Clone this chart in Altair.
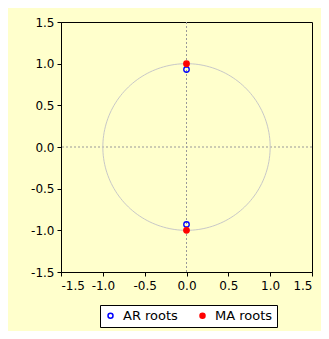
import altair as alt
import pandas as pd
import numpy as np

# Root values
ar_re = [0.0, 0.0]
ar_im = [0.93, -0.93]
ma_re = [0.0, 0.0]
ma_im = [1.0, -1.0]
ticks = [-1.5, -1.0, -0.5, 0.0, 0.5, 1.0, 1.5]

roots = pd.DataFrame({
    "re": ar_re + ma_re,
    "im": ar_im + ma_im,
    "kind": ["AR roots"] * len(ar_re) + ["MA roots"] * len(ma_re),
})

t = np.linspace(0, 2 * np.pi, 181)
circle = pd.DataFrame({"re": np.cos(t), "im": np.sin(t), "o": np.arange(len(t))})

xs = alt.Scale(domain=[-1.5, 1.5], nice=False, zero=False)
ys = alt.Scale(domain=[-1.5, 1.5], nice=False, zero=False)

lab = "replace(format(datum.value, '.1f'), '\u2212', '-')"
common = dict(values=ticks, title=None, grid=False, tickSize=4,
              labelFontSize=12, labelColor="black", labelExpr=lab,
              domainColor="black", tickColor="black", labelFont="DejaVu Sans")
xaxis = alt.Axis(labelPadding=4, **common)
yaxis = alt.Axis(labelPadding=3, **common)

circ = alt.Chart(circle).mark_line(color="#c8c8c8", strokeWidth=1).encode(
    x=alt.X("re:Q", scale=xs, axis=xaxis),
    y=alt.Y("im:Q", scale=ys, axis=yaxis),
    order="o:Q",
)

zero_v = alt.Chart(pd.DataFrame({"v": [0.0]})).mark_rule(
    color="#999999", strokeDash=[2, 2], strokeWidth=1).encode(x=alt.X("v:Q", scale=xs))
zero_h = alt.Chart(pd.DataFrame({"v": [0.0]})).mark_rule(
    color="#999999", strokeDash=[2, 2], strokeWidth=1).encode(y=alt.Y("v:Q", scale=ys))

pts = alt.Chart(roots).mark_point(size=30, strokeWidth=1.3, opacity=1).encode(
    x=alt.X("re:Q", scale=xs),
    y=alt.Y("im:Q", scale=ys),
    color=alt.Color("kind:N",
                    scale=alt.Scale(domain=["AR roots", "MA roots"], range=["#0000ff", "#ff0000"]),
                    legend=alt.Legend(title=None, orient="none", direction="horizontal",
                                      legendX=39, legendY=283, strokeColor="black",
                                      fillColor="white", padding=4, labelFontSize=13,
                                      labelFont="DejaVu Sans", labelColor="black",
                                      symbolSize=25, symbolOpacity=1, columnPadding=18,
                                      labelOffset=6)),
    fill=alt.Fill("kind:N",
                  scale=alt.Scale(domain=["AR roots", "MA roots"], range=["transparent", "#ff0000"]),
                  legend=None),
    shape=alt.value("circle"),
)

chart = (zero_v + zero_h + circ + pts).properties(
    width=251, height=250,
    background="#ffffcc",
    padding={"left": 53, "top": 14, "right": 9, "bottom": 59},
    autosize=alt.AutoSizeParams(type="none"),
).configure_view(stroke="black", strokeWidth=1)

chart.save("out.html", embed_options={"renderer": "svg", "actions": False})
